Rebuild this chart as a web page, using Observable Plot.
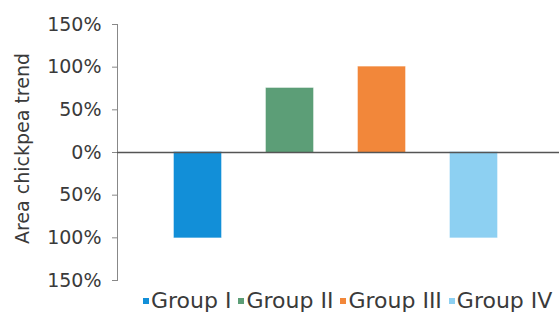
<!DOCTYPE html>
<html>
<head>
<meta charset="utf-8">
<script src="https://cdn.jsdelivr.net/npm/d3@7"></script>
<script src="https://cdn.jsdelivr.net/npm/@observablehq/plot@0.6"></script>
<style>
  html, body { margin: 0; padding: 0; background: #fff; }
  body { width: 559px; height: 316px; overflow: hidden; font-family: "DejaVu Sans", sans-serif; }
  #chart svg { display: block; overflow: visible; }
  #legend { display: flex; white-space: nowrap; overflow: hidden; width: 559px; padding-left: 143px; box-sizing: border-box;
            font-size: 22px; color: #3a3a3a; height: 32px; align-items: center; }
  #legend .item { display: flex; align-items: center; margin-right: 7px; flex-shrink: 0; }
  #legend .sw { width: 6px; height: 6px; margin-right: 2px; margin-top: 2px; }
</style>
</head>
<body>
<div id="chart"></div>
<div id="legend"></div>
<script>
const groups = ["Group I", "Group II", "Group III", "Group IV"];
const trend = [-1.0, 0.75, 1.0, -1.0];
const colors = ["#128fd8", "#5c9e77", "#f2873a", "#8dd0f2"];
const yTicks = [-1.5, -1.0, -0.5, 0, 0.5, 1.0, 1.5];
const yLabel = "Area chickpea trend";

const data = groups.map((g, i) => ({group: g, value: trend[i]}));
const fmt = d => Math.round(Math.abs(d * 100)) + "%";

const plot = Plot.plot({
  width: 559,
  height: 284,
  marginLeft: 117,
  marginRight: 5,
  marginTop: 24,
  marginBottom: 4,
  style: {fontFamily: "'DejaVu Sans', sans-serif", fontSize: "19px", color: "#3a3a3a", background: "#fff", overflow: "visible"},
  x: {domain: groups, paddingInner: 0.49, paddingOuter: 0.6, axis: null},
  y: {domain: [-1.5, 1.5], ticks: yTicks, tickFormat: fmt, label: null},
  color: {domain: groups, range: colors},
  marks: [
    Plot.barY(data, {x: "group", y: "value", fill: "group", stroke: "group", strokeOpacity: 0.6, strokeWidth: 1}),
    Plot.axisY({ticks: yTicks, tickSize: 5, tickPadding: 11, tickFormat: fmt, stroke: "#888", fontSize: 19, fill: "#3a3a3a", label: null}),
    Plot.frame({anchor: "left", stroke: "#888"}),
    Plot.ruleY([0], {stroke: "#555", strokeWidth: 1.3, insetRight: -5}),
    Plot.text([yLabel], {frameAnchor: "left", textAnchor: "middle", dx: -95, dy: -4, rotate: -90, fontSize: 19, fill: "#3a3a3a"})
  ]
});
document.getElementById("chart").appendChild(plot);

const leg = document.getElementById("legend");
groups.forEach((g, i) => {
  const item = document.createElement("div");
  item.className = "item";
  const sw = document.createElement("span");
  sw.className = "sw";
  sw.style.background = colors[i];
  const t = document.createElement("span");
  t.textContent = g;
  item.appendChild(sw);
  item.appendChild(t);
  leg.appendChild(item);
});
</script>
</body>
</html>
